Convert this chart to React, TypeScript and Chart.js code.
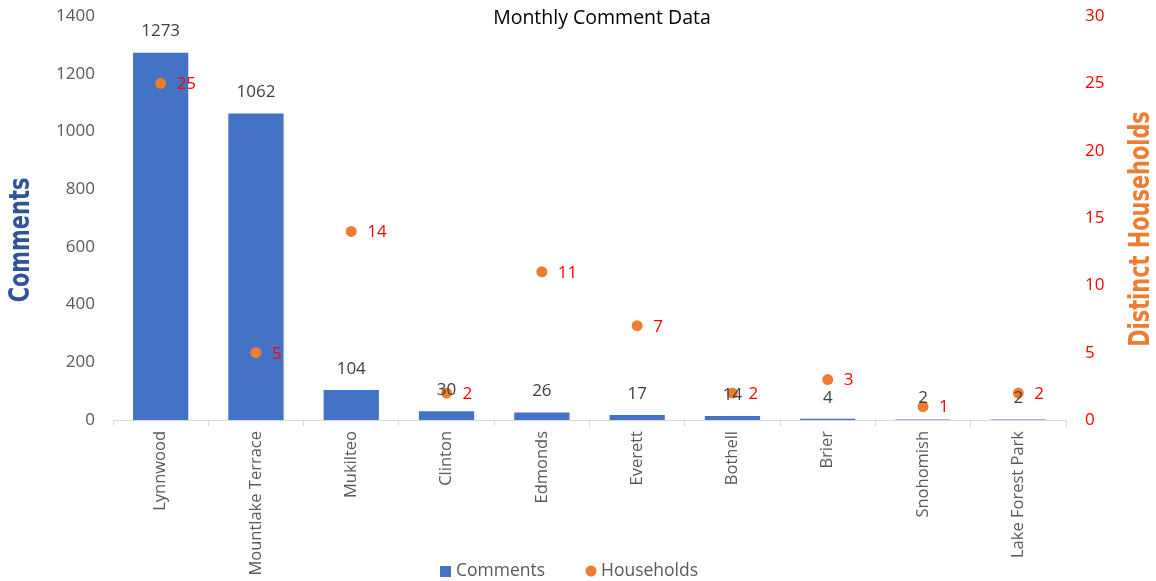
import React, { useEffect, useRef } from "react";
import { Chart, registerables } from "chart.js";

Chart.register(...registerables);

const categories = ["Lynnwood", "Mountlake Terrace", "Mukilteo", "Clinton", "Edmonds", "Everett", "Bothell", "Brier", "Snohomish", "Lake Forest Park"];
const comments = [1273, 1062, 104, 30, 26, 17, 14, 4, 2, 2];
const households = [25, 5, 14, 2, 11, 7, 2, 3, 1, 2];
const commentTicks = [0, 200, 400, 600, 800, 1000, 1200, 1400];
const householdTicks = [0, 5, 10, 15, 20, 25, 30];

const W = 1156;
const H = 581;
const FONT = '"Open Sans", "Noto Sans", sans-serif';
const NARROW = '"DejaVu Sans", "Liberation Sans", sans-serif';
const BLUE = "#4472C4";
const ORANGE = "#ED7D31";

const overlay = {
  id: "overlay",
  afterDatasetsDraw(chart: any) {
    const ctx = chart.ctx;
    ctx.save();
    const barMeta = chart.getDatasetMeta(0);
    ctx.font = `17px ${FONT}`;
    ctx.fillStyle = "#404040";
    ctx.textAlign = "center";
    ctx.textBaseline = "middle";
    barMeta.data.forEach((el: any, i: number) => {
      ctx.fillText(String(comments[i]), el.x, el.y - 21);
    });
    const ptMeta = chart.getDatasetMeta(1);
    ctx.fillStyle = "#FF0000";
    ctx.textAlign = "left";
    ptMeta.data.forEach((el: any, i: number) => {
      ctx.fillText(String(households[i]), el.x + 16, el.y + 1);
    });

    // title
    ctx.fillStyle = "#000000";
    ctx.textAlign = "center";
    ctx.font = `19.5px ${FONT}`;
    ctx.fillText("Monthly Comment Data", 602, 18);

    // axis titles (condensed)
    ctx.font = `bold 29px ${NARROW}`;
    ctx.fillStyle = "#2F5597";
    ctx.save();
    ctx.translate(21, 240);
    ctx.rotate(-Math.PI / 2);
    ctx.scale(0.72, 1);
    ctx.fillText("Comments", 0, 0);
    ctx.restore();
    ctx.fillStyle = ORANGE;
    ctx.save();
    ctx.translate(1141, 229);
    ctx.rotate(-Math.PI / 2);
    ctx.scale(0.72, 1);
    ctx.fillText("Distinct Households", 0, 0);
    ctx.restore();

    // legend
    ctx.font = `17.5px ${FONT}`;
    ctx.fillStyle = BLUE;
    ctx.fillRect(440, 566, 11, 11);
    ctx.fillStyle = "#595959";
    ctx.textAlign = "left";
    ctx.fillText("Comments", 456, 571);
    ctx.fillStyle = ORANGE;
    ctx.beginPath();
    ctx.arc(591, 571, 5.5, 0, Math.PI * 2);
    ctx.fill();
    ctx.fillStyle = "#595959";
    ctx.fillText("Households", 601, 571);
    ctx.restore();
  },
};

export default function App() {
  const ref = useRef<HTMLCanvasElement>(null);
  useEffect(() => {
    document.body.style.margin = "0";
    const canvas = ref.current!;
    const chart = new Chart(canvas, {
      type: "bar",
      data: {
        labels: categories,
        datasets: [
          {
            type: "bar",
            label: "Comments",
            data: comments,
            backgroundColor: BLUE,
            yAxisID: "y",
            categoryPercentage: 0.58,
            barPercentage: 1,
            order: 1,
          },
          {
            type: "line",
            label: "Households",
            data: households,
            yAxisID: "y1",
            showLine: false,
            pointRadius: 5.5,
            pointBackgroundColor: ORANGE,
            pointBorderColor: ORANGE,
            pointBorderWidth: 0,
            order: 0,
          } as any,
        ],
      },
      options: {
        responsive: false,
        animation: false,
        layout: { padding: { top: 16, left: 0, right: 0, bottom: 0 } },
        plugins: { legend: { display: false }, title: { display: false }, tooltip: { enabled: false } },
        scales: {
          x: {
            offset: true,
            grid: { display: true, offset: true, drawOnChartArea: false, drawTicks: true, tickLength: 6, color: "#D9D9D9" },
            border: { display: true, color: "#D9D9D9" },
            ticks: { minRotation: 90, maxRotation: 90, autoSkip: false, padding: 5, color: "#595959", font: { family: FONT, size: 16.5 } },
            afterFit: (s: any) => { s.height = H - 420; s.paddingLeft = 0; s.paddingRight = 0; },
          },
          y: {
            position: "left",
            min: 0,
            max: 1400,
            afterBuildTicks: (s: any) => { s.ticks = commentTicks.map((v) => ({ value: v })); },
            grid: { display: false, drawTicks: false },
            border: { display: false },
            ticks: { padding: 18, color: "#595959", font: { family: FONT, size: 17 }, callback: (v: any) => String(v) },
            afterFit: (s: any) => { s.width = 113; s.paddingTop = 0; s.paddingBottom = 0; },
          },
          y1: {
            position: "right",
            min: 0,
            max: 30,
            afterBuildTicks: (s: any) => { s.ticks = householdTicks.map((v) => ({ value: v })); },
            grid: { display: false, drawTicks: false },
            border: { display: false },
            ticks: { padding: 19, color: "#FF0000", font: { family: FONT, size: 17 }, callback: (v: any) => String(v) },
            afterFit: (s: any) => { s.width = W - 1066; s.paddingTop = 0; s.paddingBottom = 0; },
          },
        },
      } as any,
      plugins: [overlay],
    });
    return () => chart.destroy();
  }, []);
  return (
    <div style={{ width: W, height: H }}>
      <canvas ref={ref} width={W} height={H} style={{ width: W, height: H, display: "block" }} />
    </div>
  );
}
